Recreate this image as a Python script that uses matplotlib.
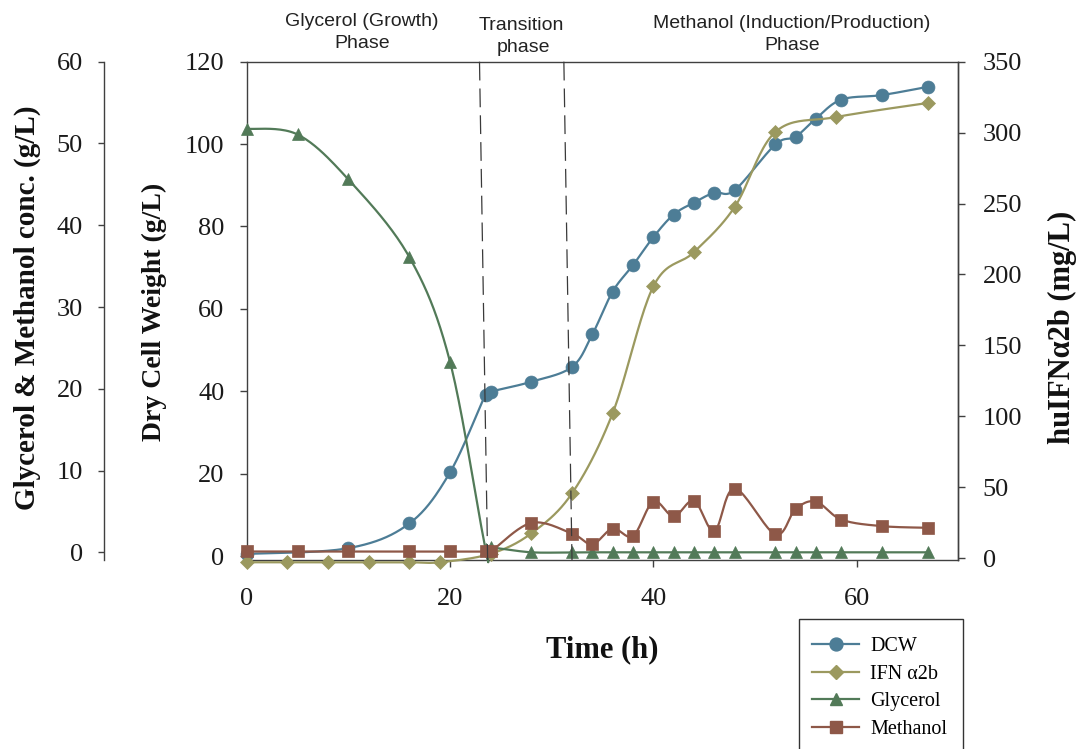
import matplotlib
matplotlib.use("Agg")
import matplotlib.pyplot as plt
import numpy as np
from matplotlib.patches import Rectangle
from matplotlib.lines import Line2D

# ---------------- data ----------------
dcw_t = [0, 10, 16, 20, 23.5, 24, 28, 32, 34, 36, 38, 40, 42, 44, 46, 48, 52, 54, 56, 58.5, 62.5, 67]
dcw = [0.5, 1.9, 7.9, 20.3, 39.2, 39.9, 42.3, 45.9, 53.8, 64.2, 70.6, 77.4, 82.9, 85.8, 88.2, 88.8,
       99.9, 101.8, 106.2, 110.8, 111.9, 113.9]

ifn_t = [0, 4, 8, 12, 16, 19, 24, 28, 32, 36, 40, 44, 48, 52, 58, 67]
ifn = [-3, -3, -3, -3, -3, -3, 3, 17.4, 45.6, 102.1, 191.5, 215.7, 247.5, 300.4, 311.0, 320.9]

gm_t = [0, 5, 10, 16, 20, 23.5, 24, 28, 32, 34, 36, 38, 40, 42, 44, 46, 48, 52, 54, 56, 58.5, 62.5, 67]
glycerol = [51.8, 51.1, 45.6, 36.1, 23.3, 0.4, 0.6, 0.0, 0.0, 0.0, 0.0, 0.0, 0.0, 0.0, 0.0, 0.0,
            0.0, 0.0, 0.0, 0.0, 0.0, 0.0, 0.0]
methanol = [0.1, 0.1, 0.1, 0.1, 0.1, 0.1, 0.1, 3.6, 2.3, 1.0, 2.9, 2.0, 6.2, 4.4, 6.3, 2.6, 7.8,
            2.2, 5.3, 6.2, 4.0, 3.2, 3.0]

phase_line_top = [22.9, 31.2]
phase_line_bottom = [23.7, 32.0]

x_ticks = [0, 20, 40, 60]
dcw_ticks = [0, 20, 40, 60, 80, 100, 120]
ifn_ticks = [0, 50, 100, 150, 200, 250, 300, 350]
gm_ticks = [0, 10, 20, 30, 40, 50, 60]

series_labels = ["DCW", "IFN \u03b12b", "Glycerol", "Methanol"]

# ---------------- style ----------------
plt.rcParams['font.family'] = ['Liberation Serif', 'DejaVu Serif']
plt.rcParams['lines.scale_dashes'] = False

C_DCW = '#4d7d96'
C_IFN = '#9b995f'
C_GLY = '#527a58'
C_MET = '#8e5848'
SPINE = '#404040'

W, H = 1082, 749
fig = plt.figure(figsize=(W / 100, H / 100), dpi=100)
L, R, T, B = 246.7, 958.3, 61.7, 560.0
ax = fig.add_axes([L / W, 1 - B / H, (R - L) / W, (B - T) / H])
ax_r = ax.twinx()
ax_g = ax.twinx()

ax.set_xlim(0, 70)
ax.set_ylim(-0.97, 120)
ax_r.set_ylim(-1.4, 350)
ax_g.set_ylim(-0.94, 60)

# spines
for s in ['left', 'top', 'bottom', 'right']:
    ax.spines[s].set_color(SPINE)
    ax.spines[s].set_linewidth(1.0)
for s in ['left', 'top', 'bottom']:
    ax_r.spines[s].set_visible(False)
ax_r.spines['right'].set_color(SPINE)
ax_r.spines['right'].set_linewidth(1.0)
for s in ['right', 'top', 'bottom']:
    ax_g.spines[s].set_visible(False)
ax_g.spines['left'].set_visible(True)
ax_g.spines['left'].set_position(('axes', (104.3 - L) / (R - L)))
ax_g.spines['left'].set_color(SPINE)
ax_g.spines['left'].set_linewidth(1.0)
ax_g.yaxis.set_ticks_position('left')
ax_g.yaxis.set_label_position('left')

ax.set_xticks(x_ticks)
ax.set_yticks(dcw_ticks)
ax_r.set_yticks(ifn_ticks)
ax_g.set_yticks(gm_ticks)

ax.tick_params(axis='x', direction='out', length=5, width=1, color=SPINE, pad=15.5,
               labelsize=19, labelcolor='#1a1a1a', top=False)
ax.tick_params(axis='y', direction='out', length=5, width=1, color=SPINE, pad=11,
               labelsize=19, labelcolor='#1a1a1a', right=False)
ax_r.tick_params(axis='y', direction='out', length=5, width=1, color=SPINE, pad=12.5,
                 labelsize=19, labelcolor='#1a1a1a')
ax_g.tick_params(axis='y', direction='out', length=4.5, width=1, color=SPINE, pad=11,
                 labelsize=19, labelcolor='#1a1a1a')


def smooth(axis, xs, ys, n=24):
    pts = axis.transData.transform(np.column_stack([xs, ys]))
    P = np.vstack([pts[0], pts, pts[-1]])
    out = [pts[0]]
    tt = np.linspace(0, 1, n)[1:]
    for i in range(1, len(P) - 2):
        p0, p1, p2, p3 = P[i - 1], P[i], P[i + 1], P[i + 2]
        c1 = p1 + (p2 - p0) / 6.0
        c2 = p2 - (p3 - p1) / 6.0
        seg = (((1 - tt) ** 3)[:, None] * p1 + (3 * (1 - tt) ** 2 * tt)[:, None] * c1
               + (3 * (1 - tt) * tt ** 2)[:, None] * c2 + (tt ** 3)[:, None] * p2)
        out.extend(seg)
    out = np.array(out)
    return axis.transData.inverted().transform(out)


def draw(axis, xs, ys, color, marker, ms):
    sm = smooth(axis, xs, ys)
    axis.plot(sm[:, 0], sm[:, 1], color=color, lw=1.6, clip_on=False, solid_capstyle='round')
    axis.plot(xs, ys, ls='none', marker=marker, ms=ms, color=color, mec=color, mew=0.5,
              clip_on=False)


draw(ax, dcw_t, dcw, C_DCW, 'o', 9.3)
draw(ax_r, ifn_t, ifn, C_IFN, 'D', 7)
draw(ax_g, gm_t, glycerol, C_GLY, '^', 9)
draw(ax_g, gm_t, methanol, C_MET, 's', 8.5)

# phase boundary lines
for xt, xb in zip(phase_line_top, phase_line_bottom):
    ax_g.plot([xt, xb], [1, 0], transform=ax_g.get_xaxis_transform(), color='#3a3a3a',
              lw=0.9, dashes=(13.5, 5.8), clip_on=False)

# axis labels
lab_kw = dict(fontweight='bold', family=['Liberation Serif', 'DejaVu Serif'], color='#111111')
ax_g.set_ylabel('Glycerol & Methanol conc. (g/L)', fontsize=21, **lab_kw)
ax_g.yaxis.set_label_coords((27 - L) / (R - L), (B - 308) / (B - T))
ax.set_ylabel('Dry Cell Weight (g/L)', fontsize=20, **lab_kw)
ax.yaxis.set_label_coords((154 - L) / (R - L), (B - 312) / (B - T))
ax_r.set_ylabel('huIFN\u03b12b (mg/L)', fontsize=22, rotation=90, **lab_kw)
ax_r.yaxis.set_label_coords((1062 - L) / (R - L), (B - 327) / (B - T))
ax.set_xlabel('Time (h)', fontsize=22, **lab_kw)
ax.xaxis.set_label_coords(0.5, (B - 650) / (B - T))
for lab in [ax_g.yaxis.label, ax.yaxis.label, ax_r.yaxis.label, ax.xaxis.label]:
    lab.set_va('center')
    lab.set_ha('center')

# phase titles
ph_kw = dict(ha='center', va='center', fontsize=14, color='#222222',
             family=['Liberation Sans', 'DejaVu Sans'])
fig.text(362 / W, 1 - 22 / H, 'Glycerol (Growth)', **ph_kw)
fig.text(362 / W, 1 - 44 / H, 'Phase', **ph_kw)
fig.text(521 / W, 1 - 25 / H, 'Transition', **ph_kw)
fig.text(523 / W, 1 - 47 / H, 'phase', **ph_kw)
fig.text(792 / W, 1 - 23 / H, 'Methanol (Induction/Production)', **ph_kw)
fig.text(792 / W, 1 - 45 / H, 'Phase', **ph_kw)

# legend
handles = [
    Line2D([], [], color=C_DCW, lw=1.6, marker='o', ms=9.3),
    Line2D([], [], color=C_IFN, lw=1.6, marker='D', ms=7),
    Line2D([], [], color=C_GLY, lw=1.6, marker='^', ms=9),
    Line2D([], [], color=C_MET, lw=1.6, marker='s', ms=8.5),
]
fig.legend(handles, series_labels, loc='upper left', bbox_to_anchor=(812 / W, 1 - 637 / H),
           frameon=False, borderpad=0, borderaxespad=0, handlelength=2.35,
           handletextpad=0.55, labelspacing=0.42, fontsize=14.5)
fig.add_artist(Rectangle((799 / W, -0.1), (963 - 799) / W, (1 - 619 / H) + 0.1,
                         transform=fig.transFigure, fill=False, ec='#333333', lw=1.0))

fig.savefig('out.png', dpi=100)
